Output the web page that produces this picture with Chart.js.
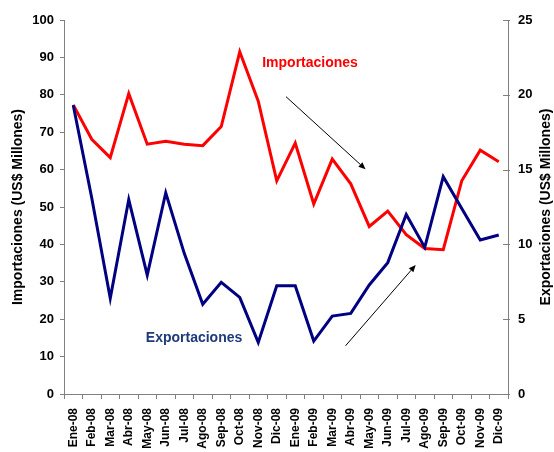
<!DOCTYPE html>
<html><head><meta charset="utf-8">
<script src="https://cdn.jsdelivr.net/npm/chart.js@4.4.0/dist/chart.umd.min.js"></script>
<style>html,body{margin:0;padding:0;background:#fff}#wrap{width:554px;height:452px;position:relative}</style>
</head><body><div id="wrap"><canvas id="c" width="554" height="452"></canvas></div>
<script>
const categories = ['Ene-08','Feb-08','Mar-08','Abr-08','May-08','Jun-08','Jul-08','Ago-08','Sep-08','Oct-08','Nov-08','Dic-08',
                    'Ene-09','Feb-09','Mar-09','Abr-09','May-09','Jun-09','Jul-09','Ago-09','Sep-09','Oct-09','Nov-09','Dic-09'];
const importaciones = [77.3, 68.1, 63.2, 80.3, 66.8, 67.6, 66.8, 66.4, 71.5, 91.5, 78.3, 57.0,
                       67.1, 50.8, 62.8, 56.2, 44.8, 48.9, 42.6, 38.9, 38.6, 57.0, 65.2, 62.1];
const exportaciones = [19.3, 13.1, 6.4, 13.0, 7.95, 13.45, 9.4, 6.0, 7.47, 6.46, 3.45, 7.24,
                       7.24, 3.54, 5.21, 5.39, 7.29, 8.78, 12.0, 9.8, 14.53, 12.4, 10.29, 10.63];
const leftAxisRange = [0, 100, 10];
const rightAxisRange = [0, 25, 5];
const leftTitle = 'Importaciones (US$ Millones)';
const rightTitle = 'Exportaciones (US$ Millones)';

// annotation placement in data units (category index, left-axis value)
const labelNotes = [
  {text: 'Importaciones', x: 12.8, y: 88.5, color: '#FF0000'},
  {text: 'Exportaciones', x: 6.53, y: 15.0, color: '#1F3A7A'}
];
const arrowNotes = [
  {from: [11.5, 79.5], to: [15.8, 60.1]},
  {from: [14.72, 12.9], to: [18.51, 34.5]}
];

const FONT = "Arial, 'Liberation Sans', sans-serif";
const AXIS_COLOR = '#808080';

const notesPlugin = {
  id: 'notes',
  afterDatasetsDraw(chart) {
    const ctx = chart.ctx;
    const xs = chart.scales.x, ys = chart.scales.y;
    ctx.save();
    ctx.font = 'bold 14px ' + FONT;
    ctx.textAlign = 'center';
    ctx.textBaseline = 'middle';
    labelNotes.forEach(n => {
      ctx.fillStyle = n.color;
      ctx.fillText(n.text, xs.getPixelForValue(n.x), ys.getPixelForValue(n.y));
    });
    ctx.strokeStyle = '#000';
    ctx.fillStyle = '#000';
    ctx.lineWidth = 1;
    arrowNotes.forEach(a => {
      const x1 = xs.getPixelForValue(a.from[0]), y1 = ys.getPixelForValue(a.from[1]);
      const x2 = xs.getPixelForValue(a.to[0]), y2 = ys.getPixelForValue(a.to[1]);
      const ang = Math.atan2(y2 - y1, x2 - x1);
      const L = 7, W = 3;
      const bx = x2 - L * Math.cos(ang), by = y2 - L * Math.sin(ang);
      ctx.beginPath();
      ctx.moveTo(x1, y1); ctx.lineTo(bx, by); ctx.stroke();
      ctx.beginPath();
      ctx.moveTo(x2, y2);
      ctx.lineTo(bx + W * Math.sin(ang), by - W * Math.cos(ang));
      ctx.lineTo(bx - W * Math.sin(ang), by + W * Math.cos(ang));
      ctx.closePath(); ctx.fill();
    });
    ctx.restore();
  },
  afterDraw(chart) {
    const ctx = chart.ctx;
    const yr = chart.scales.y2;
    const area = chart.chartArea;
    ctx.save();
    ctx.strokeStyle = AXIS_COLOR;
    ctx.lineWidth = 1;
    yr.ticks.forEach((t, i) => {
      const py = Math.round(yr.getPixelForTick(i)) + 0.5;
      ctx.beginPath();
      ctx.moveTo(yr.left - 5, py); ctx.lineTo(yr.left + 2, py); ctx.stroke();
    });
    ctx.fillStyle = '#000';
    ctx.font = 'bold 14px ' + FONT;
    ctx.textAlign = 'center';
    ctx.textBaseline = 'middle';
    ctx.translate(546, (area.top + area.bottom) / 2);
    ctx.rotate(-Math.PI / 2);
    ctx.fillText(rightTitle, 0, 0);
    ctx.restore();
  }
};

new Chart(document.getElementById('c'), {
  type: 'line',
  data: {
    labels: categories,
    datasets: [
      {label: 'Importaciones', data: importaciones, yAxisID: 'y', borderColor: '#FF0000', backgroundColor: '#FF0000',
       borderWidth: 3, pointRadius: 0, tension: 0, fill: false, order: 2},
      {label: 'Exportaciones', data: exportaciones, yAxisID: 'y2', borderColor: '#000080', backgroundColor: '#000080',
       borderWidth: 3, pointRadius: 0, tension: 0, fill: false, order: 1}
    ]
  },
  options: {
    responsive: false,
    devicePixelRatio: 1,
    animation: false,
    layout: {padding: {top: 20, left: 0, right: 0, bottom: 0}},
    plugins: {legend: {display: false}, tooltip: {enabled: false}, title: {display: false}},
    scales: {
      x: {
        type: 'category',
        offset: true,
        grid: {offset: true, drawOnChartArea: false, drawTicks: true, tickLength: 5, color: AXIS_COLOR},
        border: {color: AXIS_COLOR, width: 1},
        ticks: {autoSkip: false, minRotation: 90, maxRotation: 90, padding: 9, color: '#000',
                font: {family: FONT, size: 12, weight: 'bold'}},
        afterFit(s) { s.height = 58; }
      },
      y: {
        position: 'left',
        min: leftAxisRange[0], max: leftAxisRange[1],
        grid: {drawOnChartArea: false, tickLength: 4, color: AXIS_COLOR},
        border: {color: AXIS_COLOR, width: 1},
        ticks: {stepSize: leftAxisRange[2], padding: 6, color: '#000', font: {family: FONT, size: 13, weight: 'bold'}},
        title: {display: true, text: leftTitle, color: '#000', padding: {top: 10, bottom: 0},
                font: {family: FONT, size: 14, weight: 'bold'}},
        afterFit(s) { s.width = 64; }
      },
      y2: {
        position: 'right',
        min: rightAxisRange[0], max: rightAxisRange[1],
        grid: {drawOnChartArea: false, drawTicks: false, color: AXIS_COLOR},
        border: {color: AXIS_COLOR, width: 1},
        ticks: {stepSize: rightAxisRange[2], padding: 10, color: '#000', font: {family: FONT, size: 13, weight: 'bold'}},
        afterFit(s) { s.width = 46; }
      }
    }
  },
  plugins: [notesPlugin]
});
</script>
</body></html>
